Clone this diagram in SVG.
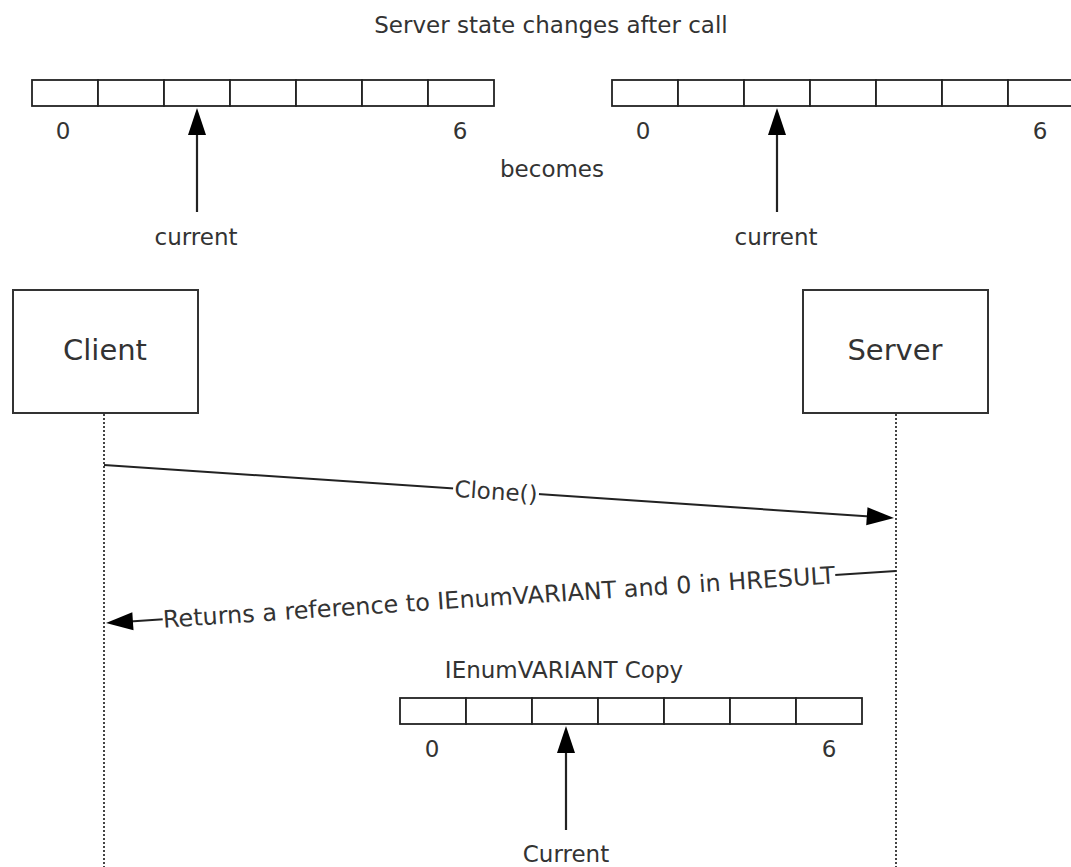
<svg xmlns="http://www.w3.org/2000/svg" width="1071" height="867" viewBox="0 0 1071 867">
<style>
text{font-family:"DejaVu Sans","Verdana",sans-serif;fill:#333;}
.lbl{font-size:23px;}
.big{font-size:29px;text-anchor:middle;}
.mid{text-anchor:middle;}
.cell{fill:#fff;stroke:#222;stroke-width:1.8;}
.box{fill:#fff;stroke:#333;stroke-width:2;}
.life{stroke:#444;stroke-width:2;stroke-dasharray:2,2;fill:none;}
.msg{stroke:#222;stroke-width:2;fill:none;}
.ptr{stroke:#222;stroke-width:2.2;fill:none;}
.head{fill:#000;}
</style>
<defs>
<g id="arr7">
<rect class="cell" x="0" y="0" width="66" height="26"/>
<rect class="cell" x="66" y="0" width="66" height="26"/>
<rect class="cell" x="132" y="0" width="66" height="26"/>
<rect class="cell" x="198" y="0" width="66" height="26"/>
<rect class="cell" x="264" y="0" width="66" height="26"/>
<rect class="cell" x="330" y="0" width="66" height="26"/>
<rect class="cell" x="396" y="0" width="66" height="26"/>
</g>
</defs>
<text class="lbl mid" x="551" y="33">Server state changes after call</text>
<g id="array-before">
<use href="#arr7" x="32" y="80"/>
<text class="lbl mid" x="63" y="139">0</text>
<text class="lbl mid" x="460" y="139">6</text>
<line class="ptr" x1="197" y1="212" x2="197" y2="132"/>
<polygon class="head" points="197,108 188,135 206,135"/>
<text class="lbl mid" x="196" y="245">current</text>
</g>
<text class="lbl mid" x="552" y="177">becomes</text>
<g id="array-after">
<use href="#arr7" x="612" y="80"/>
<text class="lbl mid" x="643" y="139">0</text>
<text class="lbl mid" x="1040" y="139">6</text>
<line class="ptr" x1="777" y1="212" x2="777" y2="132"/>
<polygon class="head" points="777,108 768,135 786,135"/>
<text class="lbl mid" x="776" y="245">current</text>
</g>
<g id="client">
<rect class="box" x="13" y="290" width="185" height="123"/>
<text class="big" x="105" y="360">Client</text>
</g>
<g id="server">
<rect class="box" x="803" y="290" width="185" height="123"/>
<text class="big" x="895" y="360">Server</text>
</g>
<g id="connectors">
<line class="life" x1="104" y1="414" x2="104" y2="867"/>
<line class="life" x1="896" y1="414" x2="896" y2="867"/>
<line class="msg" x1="104" y1="465" x2="870" y2="516.4"/>
<polygon class="head" points="894,518 867.5,507.3 866.2,525.2"/>
<g transform="translate(496,491.5) rotate(3.84)">
<rect x="-43" y="-12" width="86" height="22" fill="#fff"/>
<text class="lbl mid" x="0" y="8">Clone()</text>
</g>
<line class="msg" x1="896" y1="571" x2="130" y2="621.4"/>
<polygon class="head" points="106,623 132.3,612.3 133.5,630.2"/>
<g transform="translate(499,597.5) rotate(-3.78)">
<rect x="-337" y="-12" width="674" height="22" fill="#fff"/>
<text class="mid" x="0" y="8" font-size="23.9">Returns a reference to IEnumVARIANT and 0 in HRESULT</text>
</g>
</g>
<g id="array-copy">
<text class="lbl mid" x="564" y="678">IEnumVARIANT Copy</text>
<use href="#arr7" x="400" y="698"/>
<text class="lbl mid" x="432" y="757">0</text>
<text class="lbl mid" x="829" y="757">6</text>
<line class="ptr" x1="566" y1="830" x2="566" y2="750"/>
<polygon class="head" points="566,726 557,753 575,753"/>
<text class="lbl mid" x="566" y="862">Current</text>
</g>
</svg>
